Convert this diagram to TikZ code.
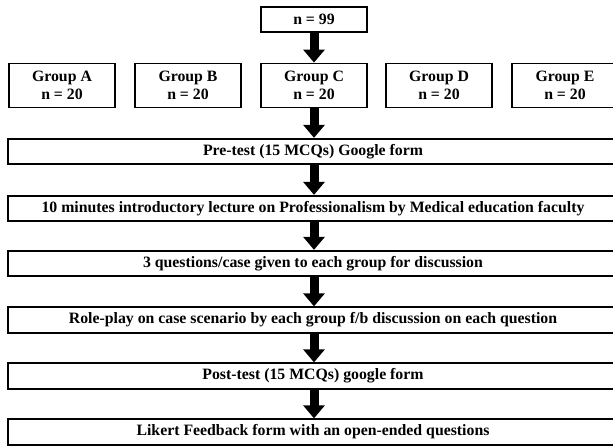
\documentclass[tikz,border=0pt]{standalone}
\usepackage{fontspec}
\setmainfont{Liberation Serif}
\usetikzlibrary{arrows.meta}
\begin{document}
\begin{tikzpicture}[x=1pt,y=-1pt,
  every node/.style={font=\fontsize{15.8}{18.5}\selectfont\bfseries},
  gbox/.style={draw, line width=1.8pt, minimum width=106pt, minimum height=44pt, inner sep=0pt, align=center},
  wbox/.style={draw, line width=1.8pt, minimum width=617pt, minimum height=25.5pt, inner sep=0pt},
  lbl/.style={inner sep=0pt},
  blk/.style={line width=9pt, -{Triangle[length=13pt,width=21pt]}}]
\useasboundingbox (0,0) rectangle (613,446);
\clip (0,0) rectangle (613,446);
\coordinate (ax) at (314,0);
\node[gbox, minimum height=25.5pt] (n99) at (314,19.5) {n = 99};
\node[gbox] (gA) at (62,85.5) {Group A\\n = 20};
\node[gbox] (gB) at (188,85.5) {Group B\\n = 20};
\node[gbox] (gC) at (314,85.5) {Group C\\n = 20};
\node[gbox] (gD) at (439,85.5) {Group D\\n = 20};
\node[gbox] (gE) at (565,85.5) {Group E\\n = 20};
\node[wbox] (pre) at (316.5,151.5) {};
\node[lbl] (tpre) at (313,151.5) {Pre-test (15 MCQs) Google form};
\node[wbox] (lec) at (316.5,208.5) {};
\node[lbl] (tlec) at (313,208.5) {10 minutes introductory lecture on Professionalism by Medical education faculty};
\node[wbox] (que) at (316.5,263.5) {};
\node[lbl] (tque) at (313,263.5) {3 questions/case given to each group for discussion};
\node[wbox] (rol) at (316.5,320) {};
\node[lbl] (trol) at (313,320) {Role-play on case scenario by each group f/b discussion on each question};
\node[wbox] (pst) at (316.5,376) {};
\node[lbl] (tpst) at (313,376) {Post-test (15 MCQs) google form};
\node[wbox] (lik) at (316.5,432) {};
\node[lbl] (tlik) at (313,432) {Likert Feedback form with an open-ended questions};
\draw[blk] (n99.south) -- (gC.north);
\draw[blk] (gC.south) -- (pre.north -| ax);
\draw[blk] (pre.south -| ax) -- (lec.north -| ax);
\draw[blk] (lec.south -| ax) -- (que.north -| ax);
\draw[blk] (que.south -| ax) -- (rol.north -| ax);
\draw[blk] (rol.south -| ax) -- (pst.north -| ax);
\draw[blk] (pst.south -| ax) -- (lik.north -| ax);
\end{tikzpicture}
\end{document}
